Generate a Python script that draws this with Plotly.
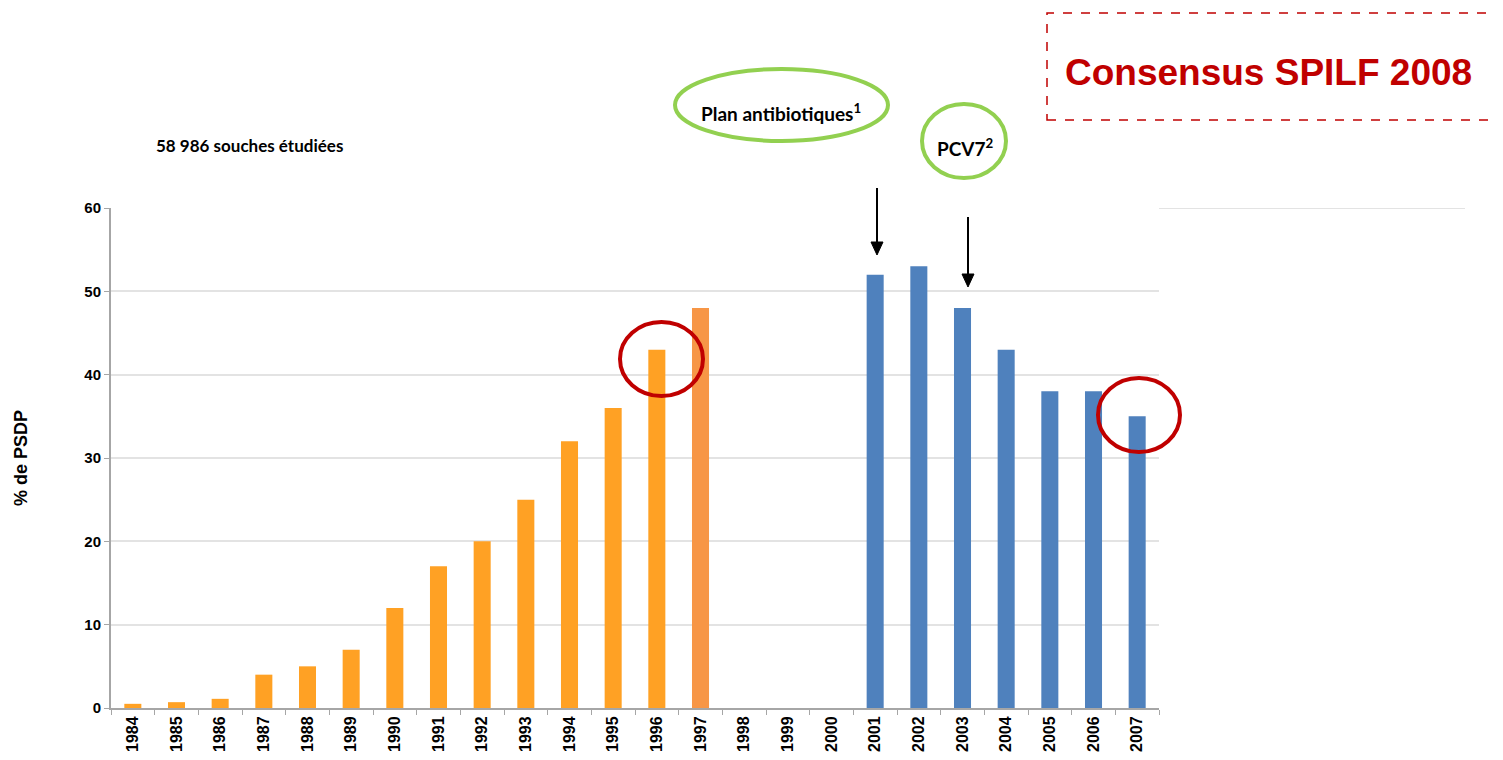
import plotly.graph_objects as go

# data
years = [str(y) for y in range(1984, 2008)]
psdp_pct = [0.5, 0.7, 1.1, 4, 5, 7, 12, 17, 20, 25, 32, 36, 43, 48,
            None, None, None, 52, 53, 48, 43, 38, 38, 35]
bar_colors = ['#FFA124'] * 13 + ['#F79646'] * 4 + ['#4F81BD'] * 7

OFF = 8  # page body margin
W, H = 1503 - OFF, 760 - OFF
L, R, T, B = 111, 1159, 208, 708  # plot area in screen pixels


def px(x):
    """screen pixel x -> paper x"""
    return (x - L) / (R - L)


def py(y):
    """screen pixel y -> paper y"""
    return (B - y) / (B - T)


fig = go.Figure()
fig.add_trace(go.Bar(
    x=years,
    y=psdp_pct,
    marker_color=bar_colors,
    marker_line_width=0,
    width=0.39,
    showlegend=False,
))


def ellipse(x0, y0, x1, y1, color):
    return dict(type='circle', xref='paper', yref='paper',
                x0=px(x0), x1=px(x1), y0=py(y1), y1=py(y0),
                line=dict(color=color, width=4))


def arrow(x, y_top, y_tip):
    shaft = dict(type='line', xref='paper', yref='paper',
                 x0=px(x), x1=px(x), y0=py(y_top), y1=py(y_tip - 8),
                 line=dict(color='black', width=2))
    head = dict(type='path', xref='paper', yref='paper',
                path=f'M {px(x - 6)} {py(y_tip - 13)} L {px(x + 6)} {py(y_tip - 13)} '
                     f'L {px(x)} {py(y_tip)} Z',
                fillcolor='black', line=dict(color='black', width=1))
    return [shaft, head]


shapes = [
    # top gridline runs past the plot area in the original
    dict(type='line', xref='paper', yref='y', x0=1, x1=px(1465), y0=60, y1=60,
         line=dict(color='#E3E3E3', width=2)),
    ellipse(675, 69, 888, 141, '#92D050'),
    ellipse(922, 104, 1006, 178, '#92D050'),
    ellipse(620, 322, 703, 396, '#C00000'),
    ellipse(1098, 378, 1180, 452, '#C00000'),
    dict(type='rect', xref='paper', yref='paper',
         x0=px(1047), x1=px(1510), y0=py(120), y1=py(13),
         line=dict(color='#C00000', width=1.5, dash='dash')),
] + arrow(877, 188, 255) + arrow(968, 217, 287)

annotations = [
    dict(text='58 986 souches étudiées', xref='paper', yref='paper',
         x=px(154), y=py(145), xanchor='left', yanchor='middle', showarrow=False,
         font=dict(family='Lato', size=17, color='black', weight='bold')),
    dict(text='Plan antibiotiques<sup>1</sup>', xref='paper', yref='paper',
         x=px(781), y=py(112), xanchor='center', yanchor='middle', showarrow=False,
         font=dict(family='Lato', size=19, color='black', weight='bold')),
    dict(text='PCV7<sup>2</sup>', xref='paper', yref='paper',
         x=px(965), y=py(148), xanchor='center', yanchor='middle', showarrow=False,
         font=dict(family='Lato', size=19, color='black', weight='bold')),
    dict(text='Consensus SPILF 2008', xref='paper', yref='paper',
         x=px(1063), y=py(72), xanchor='left', yanchor='middle', showarrow=False,
         font=dict(family='Liberation Sans', size=37, color='#C00000', weight='bold')),
]

fig.update_layout(
    width=W, height=H,
    margin=dict(l=L - OFF, r=W - (R - OFF), t=T - OFF, b=H - (B - OFF)),
    plot_bgcolor='white', paper_bgcolor='white',
    font=dict(family='Liberation Sans', color='black'),
    shapes=shapes,
    annotations=annotations,
)
fig.update_xaxes(
    type='category', categoryorder='array', categoryarray=years,
    range=[-0.5, 23.5], tickangle=-90, tickson='boundaries',
    ticks='outside', ticklen=5, tickcolor='#A6A6A6',
    showline=True, linecolor='#A6A6A6', linewidth=2, showgrid=False,
    tickfont=dict(size=16, weight='bold'), automargin=False,
)
fig.update_yaxes(
    range=[0, 60], dtick=10,
    ticks='outside', ticklen=5, tickcolor='#A6A6A6',
    showline=True, linecolor='#A6A6A6', linewidth=2,
    showgrid=True, gridcolor='#E3E3E3', gridwidth=2, zeroline=False,
    tickfont=dict(size=15, weight='bold'),
    title=dict(text='% de PSDP', font=dict(size=18, weight='bold'), standoff=52),
)

fig.write_html('out.html')
